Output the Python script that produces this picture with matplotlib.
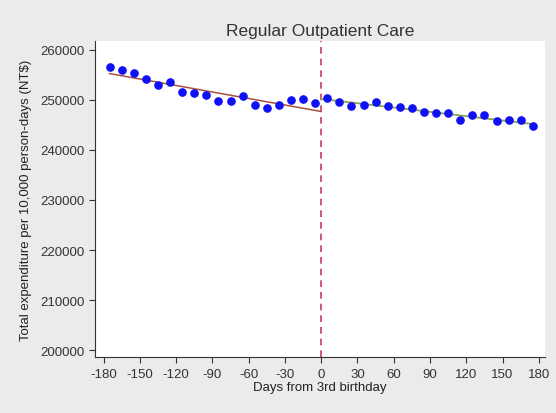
import numpy as np
import matplotlib
matplotlib.use("Agg")
import matplotlib.pyplot as plt

plt.rcParams['font.family'] = ['Liberation Sans', 'DejaVu Sans']

# days from 3rd birthday (bin midpoints)
days_pre = [-175, -165, -155, -145, -135, -125, -115, -105, -95,
            -85, -75, -65, -55, -45, -35, -25, -15, -5]
days_post = [5, 15, 25, 35, 45, 55, 65, 75, 85,
             95, 105, 115, 125, 135, 145, 155, 165, 175]

# expenditure per 10,000 person-days (NT$)
exp_pre = [256500, 256000, 255400, 254100, 253000, 253600, 251500, 251400, 250900,
           249700, 249700, 250700, 248900, 248400, 248900, 250000, 250200, 249400]
exp_post = [250400, 249500, 248800, 249000, 249600, 248700, 248600, 248300, 247500,
            247300, 247300, 245900, 246900, 246900, 245700, 245900, 245900, 244700]

yticks = [200000, 210000, 220000, 230000, 240000, 250000, 260000]
xticks = [-180, -150, -120, -90, -60, -30, 0, 30, 60, 90, 120, 150, 180]

fig = plt.figure(figsize=(5.56, 4.14), dpi=100)
fig.patch.set_facecolor('#ebebeb')
ax = fig.add_axes([0.171, 0.135, 0.809, 0.764])
ax.set_facecolor('white')

# linear fits on each side
xp = np.array(days_pre)
xq = np.array(days_post)
cp = np.polyfit(xp, exp_pre, 1)
cq = np.polyfit(xq, exp_post, 1)
xl = np.array([-175, 0])
xr = np.array([0, 175])
ax.plot(xl, np.polyval(cp, xl), color='#a8503c', lw=1.1, zorder=2)
ax.plot(xr, np.polyval(cq, xr), color='#8aa452', lw=1.3, zorder=2)

ax.axvline(0, color='#c83c5a', lw=1.2, ls=(0, (4, 3)), zorder=1)

ax.plot(days_pre, exp_pre, 'o', color='#1010f5', ms=5.2, zorder=3)
ax.plot(days_post, exp_post, 'o', color='#1010f5', ms=5.2, zorder=3)

ax.set_xlim(-187, 185)
ax.set_ylim(198600, 261800)
ax.set_xticks(xticks)
ax.set_yticks(yticks)
ax.set_xticklabels([str(t) for t in xticks])
ax.set_yticklabels([str(t) for t in yticks])
ax.tick_params(labelsize=9.5, colors='#333333', length=4, width=0.8)
for s in ['top', 'right']:
    ax.spines[s].set_visible(False)
for s in ['left', 'bottom']:
    ax.spines[s].set_color('#333333')
    ax.spines[s].set_linewidth(0.8)

ax.set_xlabel('Days from 3rd birthday', fontsize=9.5, color='#222222', labelpad=1)
ax.set_ylabel('Total expenditure per 10,000 person-days (NT$)', fontsize=9.5,
              color='#222222', labelpad=6)
ax.set_title('Regular Outpatient Care', fontsize=12.5, color='#333333', pad=4)

fig.savefig('out.png', dpi=100, facecolor=fig.get_facecolor())
